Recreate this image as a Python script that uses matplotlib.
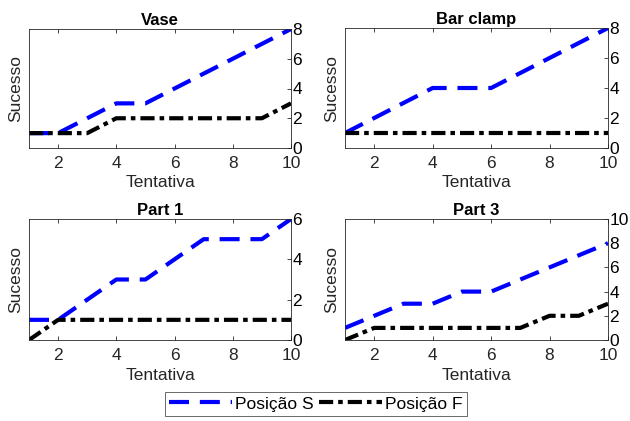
import matplotlib
matplotlib.use("Agg")
import matplotlib.pyplot as plt
from matplotlib.lines import Line2D

plt.rcParams['font.family'] = ['Liberation Sans', 'DejaVu Sans']

tentativas = [1, 2, 3, 4, 5, 6, 7, 8, 9, 10]
titles = ["Vase", "Bar clamp", "Part 1", "Part 3"]
pos_s = [
    [1, 1, 2, 3, 3, 4, 5, 6, 7, 8],
    [1, 2, 3, 4, 4, 4, 5, 6, 7, 8],
    [1, 1, 2, 3, 3, 4, 5, 5, 5, 6],
    [1, 2, 3, 3, 4, 4, 5, 6, 7, 8],
]
pos_f = [
    [1, 1, 1, 2, 2, 2, 2, 2, 2, 3],
    [1, 1, 1, 1, 1, 1, 1, 1, 1, 1],
    [0, 1, 1, 1, 1, 1, 1, 1, 1, 1],
    [0, 1, 1, 1, 1, 1, 1, 2, 2, 3],
]
ymax = [8, 8, 6, 10]
yticks = [[0, 2, 4, 6, 8], [0, 2, 4, 6, 8], [0, 2, 4, 6], [0, 2, 4, 6, 8, 10]]

# axes boxes in pixels: left, top, right, bottom
W, H = 630, 421
boxes = [(29, 29, 291, 148), (345, 28, 608, 148), (29, 219, 291, 340), (345, 219, 608, 340)]
dark = '#262626'
s_style = (0, (4.8, 2.6))
f_style = (0, (3.4, 1.2, 1.1, 1.2))

fig = plt.figure(figsize=(6.3, 4.21), dpi=100)
for i in range(4):
    l, t, r, b = boxes[i]
    ax = fig.add_axes([l / W, 1 - b / H, (r - l) / W, (b - t) / H])
    ax.plot(tentativas, pos_s[i], color='blue', lw=3, linestyle=s_style)
    ax.plot(tentativas, pos_f[i], color='black', lw=3, linestyle=f_style)
    ax.set_xlim(1, 10)
    ax.set_ylim(0, ymax[i])
    ax.set_xticks([2, 4, 6, 8, 10])
    ax.set_yticks(yticks[i])
    ax.yaxis.tick_right()
    ax.tick_params(direction='in', top=True, left=False, right=True, labelsize=12.5,
                   colors=dark, length=3, width=0.6)
    ax.tick_params(axis='y', labelcolor='black', pad=1)
    ax.tick_params(axis='x', labelcolor=dark, pad=6)
    for s in ax.spines.values():
        s.set_color(dark)
        s.set_linewidth(0.6)
    ax.set_xlabel("Tentativa", fontsize=12.5, color=dark, labelpad=3)
    ax.set_ylabel("Sucesso", fontsize=12.5, color=dark, labelpad=4)
    ax.yaxis.set_label_position('left')
    ax.set_title(titles[i], fontsize=12, fontweight='bold', pad=3)

handles = [Line2D([], [], color='blue', lw=3, linestyle=s_style),
           Line2D([], [], color='black', lw=3, linestyle=f_style)]
leg = fig.legend(handles, ["Posição S", "Posição F"], loc='center', ncol=2,
                 bbox_to_anchor=(316 / W, 1 - 404 / H), fontsize=12.5, frameon=True,
                 fancybox=False, edgecolor=dark, handlelength=3.6, handletextpad=0.2,
                 columnspacing=0.3, borderpad=0.25, borderaxespad=0)
leg.get_frame().set_linewidth(0.6)

fig.savefig("out.png", dpi=100)
